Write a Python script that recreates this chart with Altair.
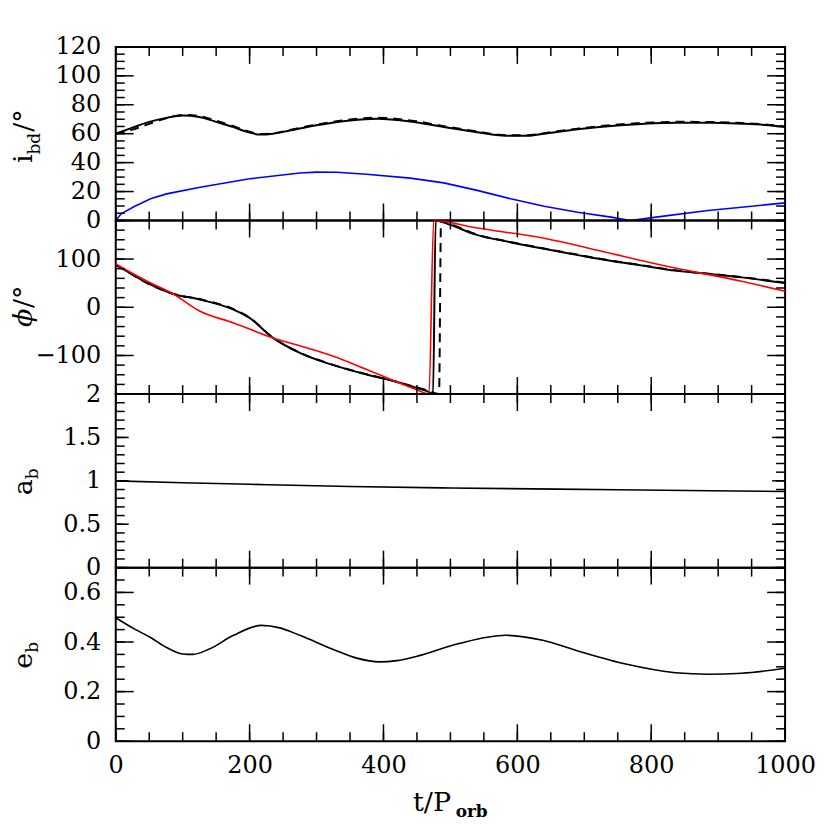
import altair as alt
import pandas as pd

# ---------------- data ----------------
t_inc = [0, 25, 50, 75, 100, 125, 150, 175, 200, 215, 235, 260, 300, 350, 390, 440, 490, 540, 565, 590, 615, 640, 690, 740, 790, 840, 890, 935, 970, 1000]
inc_solid = [60.0, 64.2, 68.2, 70.9, 72.6, 71.6, 68.2, 64.7, 60.8, 59.4, 60.0, 62.2, 65.8, 69.2, 70.4, 68.5, 64.6, 61.0, 59.3, 58.5, 58.5, 60.0, 63.0, 65.3, 66.9, 67.6, 67.6, 66.9, 66.0, 64.6]
inc_dash = [60.0, 62.8, 66.8, 70.6, 73.0, 72.2, 69.0, 65.3, 61.3, 59.8, 60.2, 62.5, 66.3, 69.8, 71.0, 69.2, 65.2, 61.5, 59.7, 58.9, 58.9, 60.4, 63.5, 65.9, 67.5, 68.2, 68.1, 67.4, 66.4, 65.0]

t_blue = [0, 8, 27, 52, 76, 126, 200, 275, 300, 330, 375, 440, 490, 540, 590, 640, 690, 740, 769, 810, 885, 935, 1000]
inc_blue = [0.0, 4.6, 9.5, 15.0, 18.4, 23.0, 28.8, 32.8, 33.4, 33.3, 32.0, 29.3, 26.0, 20.8, 15.0, 9.9, 5.7, 2.3, 0.0, 2.5, 6.9, 9.2, 12.2]

t_phi = [0, 17, 47, 86, 126, 176, 200, 235, 275, 325, 375, 420, 449, 465, 474, 478, 499, 538, 588, 638, 687, 737, 787, 836, 886, 935, 1000]
phi_solid = [88.4, 74.6, 50.4, 27.6, 16.0, -4.8, -22.0, -63.6, -94.6, -120.0, -139.6, -155.0, -167.0, -174.0, -180.0, 180.0, 171.4, 150.7, 135.4, 121.7, 109.2, 96.8, 86.4, 76.0, 69.1, 62.0, 50.4]

t_phi_dash = [0, 17, 47, 86, 126, 176, 200, 235, 275, 325, 375, 420, 449, 465, 483, 486, 505, 538, 588, 638, 687, 737, 787, 836, 886, 935, 1000]
phi_dash = [88.0, 74.0, 50.0, 27.8, 16.5, -4.0, -21.5, -63.0, -94.0, -119.5, -139.0, -154.5, -166.0, -172.0, -180.0, 180.0, 170.5, 151.5, 136.0, 122.3, 109.8, 97.4, 87.0, 76.6, 69.6, 62.5, 51.0]

t_red = [0, 47, 86, 126, 176, 235, 285, 325, 375, 449, 468, 475, 538, 638, 737, 836, 935, 1000]
phi_red = [89.8, 53.9, 27.6, -8.3, -32.5, -63.6, -84.0, -101.6, -129.0, -170.6, -180.0, 180.0, 164.8, 143.6, 112.5, 81.5, 54.0, 33.0]

t_a = [0, 100, 200, 350, 500, 750, 1000]
a_b = [1.0, 0.978, 0.96, 0.935, 0.918, 0.897, 0.877]

t_e = [0, 27, 52, 76, 100, 115, 140, 176, 218, 245, 275, 325, 360, 394, 420, 449, 513, 583, 638, 687, 762, 836, 886, 935, 1000]
e_b = [0.498, 0.454, 0.418, 0.378, 0.352, 0.350, 0.372, 0.427, 0.467, 0.457, 0.427, 0.370, 0.335, 0.320, 0.325, 0.342, 0.394, 0.427, 0.407, 0.367, 0.311, 0.276, 0.270, 0.274, 0.294]

# tick positions / labels
x_major = [0, 200, 400, 600, 800, 1000]
x_minor = [50 * i for i in range(21)]
y1_major = [0, 20, 40, 60, 80, 100, 120]
y1_minor = [5 * i for i in range(25)]
y2_labels = [-100, 0, 100]
y2_minor = [-180 + 20 * i for i in range(19)]
y3_major = [0, 0.5, 1, 1.5, 2]
y3_minor = [round(0.1 * i, 2) for i in range(21)]
y4_major = [0, 0.2, 0.4, 0.6]
y4_minor = [round(0.05 * i, 2) for i in range(15)]

# (text, size, weight, style, subscript shift)
title1 = [("i", 27, "normal", "normal", 0), ("bd", 17, "normal", "normal", 8), ("/°", 27, "normal", "normal", 0)]
title2 = [("ϕ", 27, "normal", "italic", 0), ("/°", 27, "normal", "normal", 0)]
title3 = [("a", 27, "normal", "normal", 0), ("b", 17, "normal", "normal", 6)]
title4 = [("e", 27, "normal", "normal", 0), ("b", 17, "normal", "normal", 6)]
xtitle = [("t/P", 27, "normal", "normal", 0), ("orb", 17, "bold", "normal", 6)]

# ---------------- styling ----------------
W, H = 671, 174
FONT = "DejaVu Serif"
CW = {"i": 0.32, "b": 0.64, "d": 0.64, "/": 0.337, "°": 0.5, "a": 0.596, "e": 0.592,
      "ϕ": 0.70, "t": 0.402, "P": 0.733, "o": 0.64, "r": 0.52}
LABFMT = ".2~f"

xscale = alt.Scale(domain=[0, 1000], nice=False, zero=False)


def text_width(s, size):
    return sum(CW.get(c, 0.6) for c in s) * size


def yaxis(vals):
    return alt.Axis(values=vals, format=LABFMT, title=None, ticks=False, tickSize=0,
                    domain=False, grid=False, labelFont=FONT, labelFontSize=24,
                    labelColor="black", labelPadding=15, labelFlush=False,
                    labelOverlap=False)


xaxis_bottom = alt.Axis(values=x_major, format=LABFMT, title=None, ticks=False, tickSize=0,
                        domain=False, grid=False, labelFont=FONT, labelFontSize=24,
                        labelColor="black", labelPadding=12, labelFlush=False,
                        labelOverlap=False)


def line(t, v, color, yscale, yax, xax, width=2.0, dash=None, interp="monotone"):
    df = pd.DataFrame({"t": t, "v": v})
    kw = dict(color=color, strokeWidth=width, interpolate=interp, clip=True)
    if dash:
        kw["strokeDash"] = dash
    return alt.Chart(df).mark_line(**kw).encode(
        x=alt.X("t:Q", scale=xscale, axis=xax),
        y=alt.Y("v:Q", scale=yscale, axis=yax),
    )


def ticks(yscale, ymaj, ymin, ylen, yax, xax):
    layers = []
    for vals, L in [(ymaj, ylen), (ymin, 9)]:
        df = pd.DataFrame({"v": vals})
        base = alt.Chart(df).mark_rule(color="black", strokeWidth=1.5)
        layers.append(base.encode(y=alt.Y("v:Q", scale=yscale, axis=yax),
                                  x=alt.value(0), x2=alt.value(L)))
        layers.append(base.encode(y=alt.Y("v:Q", scale=yscale, axis=yax),
                                  x=alt.value(W), x2=alt.value(W - L)))
    for vals, L in [(x_major, 17), (x_minor, 9)]:
        df = pd.DataFrame({"v": vals})
        base = alt.Chart(df).mark_rule(color="black", strokeWidth=1.5)
        layers.append(base.encode(x=alt.X("v:Q", scale=xscale, axis=xax),
                                  y=alt.value(0), y2=alt.value(L)))
        layers.append(base.encode(x=alt.X("v:Q", scale=xscale, axis=xax),
                                  y=alt.value(H), y2=alt.value(H - L)))
    return layers


def ytitle(parts, bx, cy):
    total = sum(text_width(s, sz) for s, sz, _, _, _ in parts)
    start = cy + total / 2
    layers, off = [], 0.0
    for s, sz, wt, st, sub in parts:
        df = pd.DataFrame({"s": [s]})
        layers.append(alt.Chart(df).mark_text(
            angle=270, align="left", baseline="alphabetic", font=FONT, fontSize=sz,
            fontWeight=wt, fontStyle=st, color="black", dx=off, dy=sub).encode(
            text="s:N", x=alt.value(bx), y=alt.value(start)))
        off += text_width(s, sz) + (1 if sub else 0)
    return layers


def xtitle_layers(parts, x0, by):
    layers, off = [], 0.0
    for s, sz, wt, st, sub in parts:
        df = pd.DataFrame({"s": [s]})
        layers.append(alt.Chart(df).mark_text(
            align="left", baseline="alphabetic", font=FONT, fontSize=sz,
            fontWeight=wt, fontStyle=st, color="black", dx=off, dy=sub).encode(
            text="s:N", x=alt.value(x0), y=alt.value(by)))
        off += text_width(s, sz) + 3
    return layers


TX = -84

# panel 1: inclination
s1 = alt.Scale(domain=[0, 120], nice=False, zero=False)
a1 = yaxis(y1_major)
p1 = alt.layer(
    line(t_inc, inc_solid, "black", s1, a1, None),
    line(t_inc, inc_dash, "black", s1, a1, None, dash=[9, 6]),
    line(t_blue, inc_blue, "#0000ff", s1, a1, None, width=1.6, interp="linear"),
    *ticks(s1, y1_major, y1_minor, 18, a1, None),
    *ytitle(title1, TX, 90),
).properties(width=W, height=H)

# panel 2: phi
s2 = alt.Scale(domain=[-180, 180], nice=False, zero=False)
a2 = yaxis(y2_labels)
p2 = alt.layer(
    line(t_phi, phi_solid, "black", s2, a2, None),
    line(t_phi_dash, phi_dash, "black", s2, a2, None, dash=[9, 6]),
    line(t_red, phi_red, "#ff0000", s2, a2, None, width=1.6),
    *ticks(s2, y2_labels, y2_minor, 18, a2, None),
    *ytitle(title2, TX, 86),
).properties(width=W, height=H)

# panel 3: a_b
s3 = alt.Scale(domain=[0, 2], nice=False, zero=False)
a3 = yaxis(y3_major)
p3 = alt.layer(
    line(t_a, a_b, "black", s3, a3, None, width=1.6),
    *ticks(s3, y3_major, y3_minor, 13, a3, None),
    *ytitle(title3, TX, 88),
).properties(width=W, height=H)

# panel 4: e_b
s4 = alt.Scale(domain=[0, 0.7], nice=False, zero=False)
a4 = yaxis(y4_major)
p4 = alt.layer(
    line(t_e, e_b, "black", s4, a4, xaxis_bottom, width=1.6),
    *ticks(s4, y4_major, y4_minor, 18, a4, xaxis_bottom),
    *ytitle(title4, TX, 88),
    *xtitle_layers(xtitle, 298, H + 70),
).properties(width=W, height=H)

chart = alt.vconcat(p1, p2, p3, p4, spacing=0, bounds="flush").configure_view(
    stroke="black", strokeWidth=2
).properties(padding={"left": 0, "top": 25, "right": 5, "bottom": 5})

chart.save("out.html", embed_options={"renderer": "svg", "actions": False})
